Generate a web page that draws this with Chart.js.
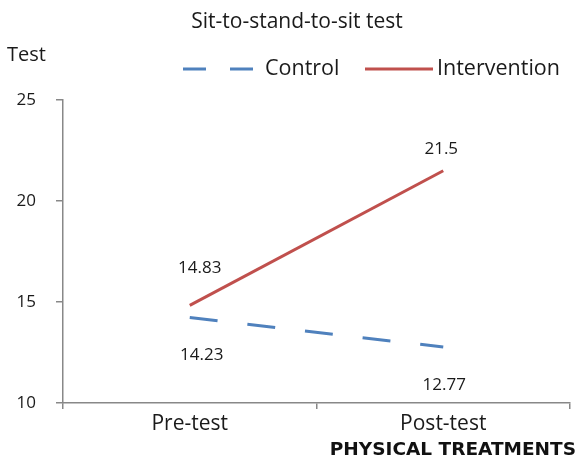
<!DOCTYPE html>
<html><head><meta charset="utf-8">
<script src="https://cdn.jsdelivr.net/npm/chart.js@4"></script>
<style>html,body{margin:0;padding:0;background:#fff}#wrap{width:577px;height:459px}</style>
</head><body><div id="wrap"><canvas id="c" width="577" height="459"></canvas></div>
<script>
const categories = ["Pre-test", "Post-test"];
const controlValues = [14.23, 12.77];
const interventionValues = [14.83, 21.5];
const yTicks = [10, 15, 20, 25];
const chartTitle = "Sit-to-stand-to-sit test";
const yAxisTitle = "Test";
const seriesNames = ["Control", "Intervention"];
const watermark = "PHYSICAL TREATMENTS";

const FONT = "'Open Sans', 'Noto Sans', sans-serif";
const BLUE = "#4F81BD", RED = "#C0504D";

const labelOffsets = [
  [{dx: 12, dy: 38}, {dx: 1, dy: 38}],   // control: below
  [{dx: 10, dy: -37}, {dx: -2, dy: -22}] // intervention: above
];

const overlay = {
  id: "overlay",
  afterDraw(chart) {
    const ctx = chart.ctx;
    ctx.save();
    ctx.fillStyle = "#1a1a1a";
    ctx.textAlign = "center";
    ctx.textBaseline = "middle";
    ctx.font = "21px " + FONT;
    ctx.fillText(chartTitle, 297, 22);
    ctx.textAlign = "left";
    ctx.font = "20px " + FONT;
    ctx.fillText(yAxisTitle, 7, 55);
    // legend
    ctx.lineWidth = 3;
    ctx.strokeStyle = BLUE;
    ctx.setLineDash([23, 24]);
    ctx.beginPath(); ctx.moveTo(183, 69); ctx.lineTo(253, 69); ctx.stroke();
    ctx.setLineDash([]);
    ctx.strokeStyle = RED;
    ctx.beginPath(); ctx.moveTo(365, 69); ctx.lineTo(433, 69); ctx.stroke();
    ctx.font = "21.5px " + FONT;
    ctx.fillStyle = "#1a1a1a";
    ctx.fillText(seriesNames[0], 265, 69);
    ctx.fillText(seriesNames[1], 437, 69);
    // data labels
    ctx.font = "17px " + FONT;
    ctx.textAlign = "center";
    chart.data.datasets.forEach((ds, i) => {
      const meta = chart.getDatasetMeta(i);
      meta.data.forEach((pt, j) => {
        const o = labelOffsets[i][j];
        ctx.fillText(String(ds.data[j]), pt.x + o.dx, pt.y + o.dy);
      });
    });
    // watermark
    ctx.font = "bold 18.5px 'DejaVu Sans', sans-serif";
    ctx.textAlign = "right";
    ctx.fillStyle = "#111";
    ctx.fillText(watermark, 576, 450);
    ctx.restore();
  }
};

new Chart(document.getElementById("c"), {
  type: "line",
  data: {
    labels: categories,
    datasets: [
      { label: seriesNames[0], data: controlValues, borderColor: BLUE, backgroundColor: BLUE,
        borderWidth: 3, borderDash: [28, 30], pointRadius: 0, tension: 0, fill: false },
      { label: seriesNames[1], data: interventionValues, borderColor: RED, backgroundColor: RED,
        borderWidth: 3, pointRadius: 0, tension: 0, fill: false }
    ]
  },
  options: {
    responsive: false,
    animation: false,
    events: [],
    layout: { padding: { top: 100, right: 7, left: 0, bottom: 0 } },
    plugins: { legend: { display: false }, title: { display: false }, tooltip: { enabled: false } },
    scales: {
      x: {
        offset: true,
        afterFit(scale) { scale.height = 56; },
        grid: { offset: true, drawOnChartArea: false, drawTicks: true, tickLength: 6, color: "#888", lineWidth: 1.5 },
        border: { color: "#888", width: 1.5 },
        ticks: { color: "#1a1a1a", font: { family: FONT, size: 21 }, padding: 2 }
      },
      y: {
        min: 10, max: 25,
        afterFit(scale) { scale.width = 63; },
        afterBuildTicks(scale) { scale.ticks = yTicks.map(v => ({ value: v })); },
        grid: { drawOnChartArea: false, drawTicks: true, tickLength: 7, color: "#888", lineWidth: 1.5 },
        border: { color: "#888", width: 1.5 },
        ticks: { color: "#1a1a1a", font: { family: FONT, size: 17 }, padding: 20 }
      }
    }
  },
  plugins: [overlay]
});
</script></body></html>
